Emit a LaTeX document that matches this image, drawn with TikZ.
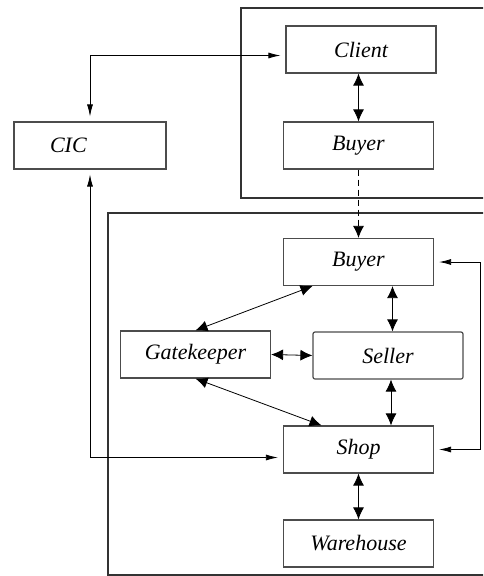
\documentclass[tikz,border=0pt]{standalone}
\usepackage{fontspec}
\setmainfont{Liberation Serif}
\usetikzlibrary{arrows.meta}
\tikzset{
  every picture/.style={
    line width=0.8pt,
    >={Latex[width=6pt, length=12pt]}
  },
  block/.style={
    draw=black!70, line width=1.2pt, minimum width=150pt, minimum height=47pt,
    inner sep=0pt, font=\fontsize{22}{24}\selectfont\itshape
  },
  big arrow/.style={
    {Latex[width=11pt, length=12pt]}-{Latex[width=11pt, length=12pt]}
  }
}
\begin{document}
\begin{tikzpicture}[
    x=1pt, y=-1pt,
    gap/.style={shorten >=5pt, shorten <=5pt},
    group/.style={draw=black!80}
  ]
  \useasboundingbox (0,0) rectangle (483,576);
  \clip (0,0) rectangle (483,576);
  \draw[group, line width=1.8pt] (241,8) rectangle (520,198);
  \draw[group, line width=1.2pt] (108,213) rectangle (520,575);
  \node[block] (client) at (361,49.5) {Client};
  \node[block] (buyerA) at (358.5,145.5) {Buyer};
  \node[block, inner xsep=36pt, text width=80pt, align=left] (cic) at (90,145.5) {CIC};
  \node[block] (buyerB) at (358.5,262) {Buyer};
  \node[block] (gate) at (195.5,354.5) {Gatekeeper};
  \node[block, rounded corners=2pt] (seller) at (388,355.5) {Seller};
  \node[block] (shop) at (358.5,449.5) {Shop};
  \node[block] (ware) at (358.5,543.5) {Warehouse};
  \draw[<->, gap] (cic.north) |- ([yshift=-6pt]client.west);
  \draw[<->, gap] (cic.south) |- ([yshift=-8pt]shop.west);
  \draw[big arrow] (buyerA.north |- client.south) -- (buyerA.north);
  \draw[->, dash pattern=on 6pt off 4pt, >={Latex[width=11pt, length=12pt]}] (buyerA.south) -- (buyerB.north);
  \draw[big arrow, >={Latex[width=9pt, length=11pt]}] ([xshift=-46pt]buyerB.south) -- (gate.north);
  \draw[big arrow] ([xshift=34pt]buyerB.south) -- ([xshift=34pt]buyerB.south |- seller.north);
  \draw[big arrow] (gate.east) -- (seller.west);
  \draw[big arrow] (gate.south) -- ([xshift=-37pt]shop.north);
  \draw[big arrow] ([xshift=3pt]seller.south) -- ([xshift=3pt]seller.south |- shop.north);
  \draw[big arrow] (shop.south) -- (ware.north);
  \draw[<->, gap] (buyerB.east) -- ++(46,0) |- (shop.east);
\end{tikzpicture}
\end{document}
